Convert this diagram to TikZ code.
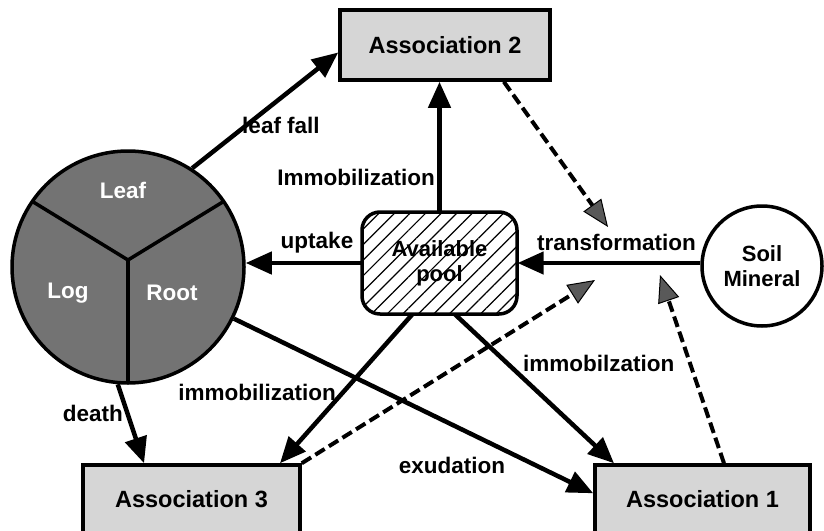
\documentclass[tikz,border=0pt]{standalone}
\usepackage{fontspec}
\setmainfont{Liberation Sans}
\usepackage{pdfrender}
\usetikzlibrary{arrows.meta,patterns.meta}
\newcommand{\outl}[1]{\textcolor{white}{\textpdfrender{TextRenderingMode=FillStroke,LineWidth=0.7pt,FillColor=white,StrokeColor=black}{#1}}}
\begin{document}
\begin{tikzpicture}[x=1pt,y=-1pt,
  lbl/.style={font=\bfseries\fontsize{22.5}{25}\selectfont, inner sep=0pt},
  boxtxt/.style={font=\bfseries\fontsize{22}{25}\selectfont},
  assoc/.style={draw, line width=3.5pt, fill=black!16, font=\bfseries\fontsize{23.5}{26}\selectfont, inner sep=0pt},
  flow/.style={line width=4.5pt, -{Triangle[length=26pt,width=22pt]}},
  dflow/.style={line width=4pt, dash pattern=on 11pt off 5pt,
     -{Triangle[length=27pt,width=22pt,fill=black!65,line width=1pt]}},
  seglbl/.style={font=\bfseries\fontsize{22.5}{25}\selectfont, inner sep=0pt}
]
\useasboundingbox (0,0) rectangle (824,530);

% nodes
\node[assoc, minimum width=210pt, minimum height=70pt] (a2) at (445,45) {Association 2};
\node[assoc, minimum width=217pt, minimum height=68pt] (a3) at (191.5,499) {Association 3};
\node[assoc, minimum width=215pt, minimum height=68pt] (a1) at (702.5,499) {Association 1};
\node[draw, line width=3.5pt, rounded corners=18pt, minimum width=155pt, minimum height=102pt,
      pattern={Lines[angle=45,distance=11pt,line width=1.2pt]}, boxtxt, align=center, inner sep=0pt]
      (pool) at (439.5,263) {Available\\pool};
\node[draw, circle, line width=3.5pt, minimum size=120pt, boxtxt, align=center, inner sep=0pt]
      (soil) at (762,266) {Soil\\Mineral};
\node[draw, circle, line width=3.5pt, minimum size=232pt, fill=black!55, inner sep=0pt]
      (plant) at (128,267) {};

% plant dividers
\coordinate (pc) at (128,260);
\begin{scope}
  \clip (128,267) circle[radius=115pt];
  \draw[line width=3.5pt] (pc) -- (30,200);
  \draw[line width=3.5pt] (pc) -- (226,200);
  \draw[line width=3.5pt] (pc) -- (128,390);
\end{scope}
\node[seglbl] (leaf) at (123,190) {\outl{Leaf}};
\node[seglbl] (log) at (68,293) {\outl{Log}};
\node[seglbl] (root) at (172,293) {\outl{Root}};

% free ends of dashed arrows
\coordinate (t1) at (608,227);
\coordinate (t2) at (595,280);
\coordinate (t3) at (660,275);

% connectors
\draw[flow] (plant.57) -- (a2.184);
\draw[flow] (pool.north) -- (pool.north |- a2.south);
\draw[flow] (pool.west) -- (pool.west -| plant.east);
\draw[flow] (soil.west |- pool.east) -- (pool.east);
\draw[flow] (pool.242) -- (a3.22);
\draw[flow] (pool.-73) -- (a1.158);
\draw[flow] (plant.-26) -- (a1.177);
\draw[flow] (plant.265) -- (a3.143);
\draw[dflow] (a2.-32.5) -- (t1);
\draw[dflow] (a3.north east) -- (t2);
\draw[dflow] (a1.59) -- (t3);

% labels
\node[lbl] (lleaf) at (281,125) {leaf fall};
\node[lbl, anchor=east] (limm) at (435,177) {Immobilization};
\node[lbl] (lup) at (317,243) {uptake};
\node[lbl, anchor=west] (ltr) at (537,242) {transformation};
\node[lbl] (limm3) at (257,392) {immobilization};
\node[lbl, anchor=west] (limm1) at (523,363) {immobilzation};
\node[lbl] (lex) at (452,465) {exudation};
\node[lbl, anchor=east] (ldeath) at (123,413) {death};
\end{tikzpicture}
\end{document}
